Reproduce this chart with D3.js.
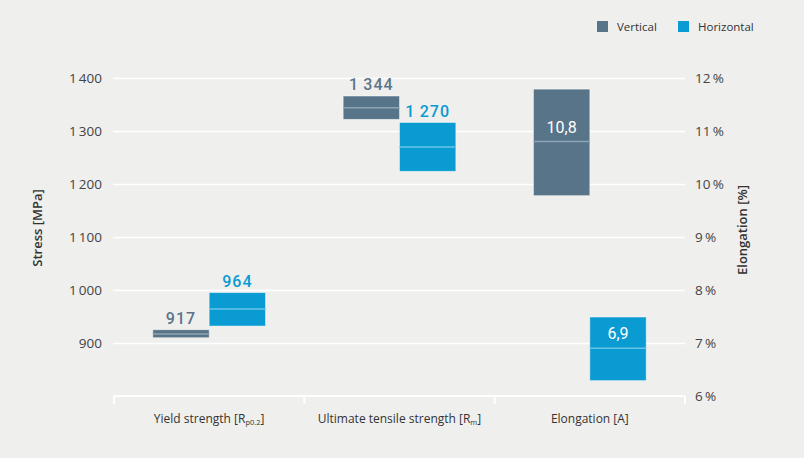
<!DOCTYPE html>
<html><head><meta charset="utf-8">
<script src="https://cdn.jsdelivr.net/npm/d3@7"></script>
<style>
html,body{margin:0;padding:0;background:#efefee;}
svg{display:block;font-family:"Open Sans",sans-serif;}
</style></head><body>
<svg id="c" width="804" height="458"></svg>
<script>
// ---- data ----
const categories = ["Yield strength", "Ultimate tensile strength", "Elongation"];
const categorySubs = ["p0.2", "m", ""];
const categoryTails = ["]", "]", "[A]"];
const series = ["Vertical", "Horizontal"];
const seriesColors = ["#587489", "#0a9bd2"];
const meanColors = ["#8ea3b3", "#69c4e8"];
const labelColors = ["#5c7489", "#0a9bd2"];
// axis used: 0 = stress (left), 1 = elongation (right)
const categoryAxis = [0, 0, 1];
const vMin  = [910, 1322, 9.78];
const vMax  = [925, 1366, 11.79];
const vMean = [917, 1344, 10.8];
const hMin  = [932, 1224, 6.29];
const hMax  = [995, 1316, 7.49];
const hMean = [964, 1270, 6.9];
const vLabels = ["917", "1\u2009344", "10,8"];
const hLabels = ["964", "1\u2009270", "6,9"];
const stressTicks = [900, 1000, 1100, 1200, 1300, 1400];
const stressTickLabels = ["900", "1\u2009000", "1\u2009100", "1\u2009200", "1\u2009300", "1\u2009400"];
const elongTicks = [6, 7, 8, 9, 10, 11, 12];
const elongTickLabels = ["6\u2009%", "7\u2009%", "8\u2009%", "9\u2009%", "10\u2009%", "11\u2009%", "12\u2009%"];

// ---- layout ----
const svg = d3.select("#c");
const pLeft = 114, pRight = 685, pTop = 78, pBottom = 396;
const yL = d3.scaleLinear().domain([800, 1400]).range([pBottom, pTop]);
const yR = d3.scaleLinear().domain([6, 12]).range([pBottom, pTop]);
const x = d3.scaleBand().domain(categories).range([pLeft, pRight]).paddingInner(0).paddingOuter(0);
const bw = x.bandwidth() * 0.296;

// gridlines
svg.append("g").selectAll("line").data(stressTicks).join("line")
  .attr("x1", pLeft - 1).attr("x2", pRight)
  .attr("y1", d => Math.round(yL(d)) + 0.5).attr("y2", d => Math.round(yL(d)) + 0.5)
  .attr("stroke", "#ffffff").attr("stroke-width", 1.3);

// left axis labels
const gl = svg.append("g").attr("transform", `translate(${pLeft},0)`)
  .call(d3.axisLeft(yL).tickValues(stressTicks).tickSize(0).tickPadding(12)
    .tickFormat((d, i) => stressTickLabels[i]));
gl.select(".domain").remove();
gl.selectAll("text").attr("font-size", 13.5).attr("fill", "#444").attr("font-family", "Open Sans");

// right axis labels
const gr = svg.append("g").attr("transform", `translate(${pRight},0)`)
  .call(d3.axisRight(yR).tickValues(elongTicks).tickSize(0).tickPadding(10)
    .tickFormat((d, i) => elongTickLabels[i]));
gr.select(".domain").remove();
gr.selectAll("text").attr("font-size", 13.5).attr("fill", "#444").attr("font-family", "Open Sans");

// x axis
const gx = svg.append("g");
gx.append("line").attr("x1", pLeft).attr("x2", pRight).attr("y1", pBottom).attr("y2", pBottom)
  .attr("stroke", "#fff").attr("stroke-width", 2);
const edges = categories.map(c => x(c)).concat([pRight]);
gx.selectAll("line.t").data(edges).join("line").attr("class", "t")
  .attr("x1", d => d).attr("x2", d => d).attr("y1", pBottom).attr("y2", pBottom + 8)
  .attr("stroke", "#fff").attr("stroke-width", 2);
const cl = gx.selectAll("text.cat").data(categories).join("text").attr("class", "cat")
  .attr("x", d => x(d) + x.bandwidth() / 2).attr("y", 423)
  .attr("text-anchor", "middle").attr("font-size", 12).attr("fill", "#333");
cl.each(function(d, i) {
  const t = d3.select(this);
  if (categorySubs[i]) {
    t.append("tspan").text(d + " [R");
    t.append("tspan").text(categorySubs[i]).attr("font-size", 7.5).attr("dy", 2);
    t.append("tspan").text(categoryTails[i]).attr("dy", -2);
  } else {
    t.append("tspan").text(d + " " + categoryTails[i]);
  }
});

// axis titles
svg.append("text").attr("transform", "translate(42,228) rotate(-90)")
  .attr("text-anchor", "middle").attr("font-size", 13).attr("font-weight", 600)
  .attr("fill", "#333").text("Stress [MPa]");
svg.append("text").attr("transform", "translate(747,230) rotate(-90)")
  .attr("text-anchor", "middle").attr("font-size", 13).attr("font-weight", 600)
  .attr("fill", "#333").text("Elongation [%]");

// bars
const rows = [];
categories.forEach((c, i) => {
  rows.push({c, i, s: 0, min: vMin[i], max: vMax[i], mean: vMean[i], label: vLabels[i]});
  rows.push({c, i, s: 1, min: hMin[i], max: hMax[i], mean: hMean[i], label: hLabels[i]});
});
const cx = d => x(d.c) + x.bandwidth() / 2 + (d.s === 0 ? -bw : 0);
const ys = d => categoryAxis[d.i] === 0 ? yL : yR;
const bars = svg.append("g").selectAll("g").data(rows).join("g");
bars.append("rect")
  .attr("x", cx).attr("width", bw)
  .attr("y", d => ys(d)(d.max)).attr("height", d => ys(d)(d.min) - ys(d)(d.max))
  .attr("fill", d => seriesColors[d.s])
  .attr("stroke", "rgba(255,255,255,0.55)").attr("stroke-width", 0.8);
bars.append("line")
  .attr("x1", cx).attr("x2", d => cx(d) + bw)
  .attr("y1", d => ys(d)(d.mean)).attr("y2", d => ys(d)(d.mean))
  .attr("stroke", d => meanColors[d.s]).attr("stroke-width", 1.5);
bars.append("text")
  .attr("x", d => cx(d) + bw / 2)
  .attr("y", d => categoryAxis[d.i] === 0 ? ys(d)(d.max) - 6 : ys(d)(d.mean) - 9)
  .attr("text-anchor", "middle")
  .attr("font-family", "Roboto").attr("font-size", 16)
  .attr("font-weight", d => categoryAxis[d.i] === 0 ? 500 : 400)
  .attr("letter-spacing", d => categoryAxis[d.i] === 0 ? 1 : 0)
  .attr("fill", d => categoryAxis[d.i] === 0 ? labelColors[d.s] : "#ffffff")
  .text(d => d.label);

// legend
const lg = svg.append("g");
const lx = [597, 678];
series.forEach((s, i) => {
  lg.append("rect").attr("x", lx[i]).attr("y", 21).attr("width", 11).attr("height", 11).attr("fill", seriesColors[i]);
  lg.append("text").attr("x", lx[i] + 20).attr("y", 31).attr("font-size", 11.5).attr("fill", "#333").text(s);
});
</script>
</body></html>
